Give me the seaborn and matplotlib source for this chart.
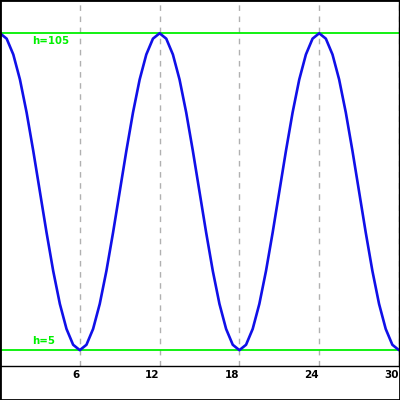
import numpy as np
import pandas as pd
import seaborn as sns
import matplotlib.pyplot as plt
from matplotlib.transforms import ScaledTranslation

# height of the point over time, sampled every half unit
t = [i * 0.5 for i in range(61)]
h_cycle = [105.0, 103.3, 98.3, 90.4, 80.0, 67.9, 55.0, 42.1, 30.0, 19.6, 11.7, 6.7,
           5.0, 6.7, 11.7, 19.6, 30.0, 42.1, 55.0, 67.9, 80.0, 90.4, 98.3, 103.3]
h = h_cycle * 2 + h_cycle[:13]
h_max = 105
h_min = 5
xticks = [6, 12, 18, 24, 30]

df = pd.DataFrame({"t": t, "h": h})

sns.set_style("white")
fig = plt.figure(figsize=(4, 4), dpi=100)
ax = fig.add_axes([0, 34 / 400, 399 / 400, 366 / 400])

for x in xticks:
    ax.axvline(x, color="#b0b0b0", linestyle=(0, (4, 4)), linewidth=1, zorder=0)

ax.axhline(h_max, color="#00f000", linewidth=1.3, zorder=1)
ax.axhline(h_min, color="#00f000", linewidth=1.3, zorder=1)

sns.lineplot(data=df, x="t", y="h", ax=ax, color="#1010e8", linewidth=1.9, zorder=2)

ax.text(2.4, h_max - 1.0, f"h={h_max}", color="#00f000", fontsize=7.3,
        fontweight="bold", va="top", ha="left")
ax.text(2.4, h_min + 1.3, f"h={h_min}", color="#00f000", fontsize=7.3,
        fontweight="bold", va="bottom", ha="left")

ax.set_xlim(0, 30)
ax.set_ylim(0, 115.5)
ax.set_xticks(xticks)
ax.set_xticklabels([str(x) for x in xticks], fontsize=7.5, fontweight="bold",
                   color="black", ha="right")
for lab in ax.get_xticklabels():
    lab.set_transform(lab.get_transform() + ScaledTranslation(1 / 100, 0, fig.dpi_scale_trans))
ax.set_yticks([])
ax.tick_params(axis="x", length=0, pad=3)
ax.set_xlabel("")
ax.set_ylabel("")
for s in ax.spines.values():
    s.set_color("black")
    s.set_linewidth(1)

fig.patches.append(plt.Rectangle((0, 0), 1, 1, transform=fig.transFigure,
                                 fill=False, edgecolor="black", linewidth=2))

fig.savefig("out.png", dpi=100)
plt.close(fig)
